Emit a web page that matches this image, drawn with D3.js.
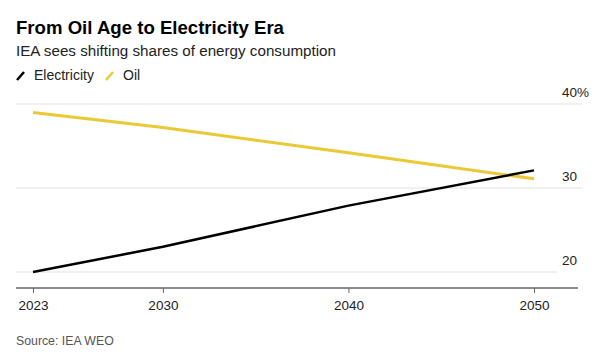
<!DOCTYPE html>
<html>
<head>
<meta charset="utf-8">
<script src="https://cdn.jsdelivr.net/npm/d3@7"></script>
<style>
  body { margin: 0; background: #fff; }
  text { font-family: "Liberation Sans", Arial, sans-serif; }
</style>
</head>
<body>
<svg id="chart" width="599" height="354"></svg>
<script>
// data (share of final energy consumption, %)
const years = [2023, 2030, 2040, 2050];
const electricity = [20.0, 23.0, 27.9, 32.1];
const oil = [39.0, 37.2, 34.2, 31.1];
const yTicks = [20, 30, 40];
const xTicks = [2023, 2030, 2040, 2050];

const svg = d3.select('#chart');

const x = d3.scaleLinear().domain([2023, 2050]).range([33, 534]);
const y = d3.scaleLinear().domain([20, 40]).range([272, 104]);

// title block
svg.append('text')
    .attr('x', 16).attr('y', 34)
    .attr('font-size', 18.6).attr('font-weight', 'bold').attr('fill', '#000')
    .text('From Oil Age to Electricity Era');

svg.append('text')
    .attr('x', 16).attr('y', 56)
    .attr('font-size', 15.2).attr('fill', '#222')
    .text('IEA sees shifting shares of energy consumption');

// legend
const legend = [
    {label: 'Electricity', color: '#000', x: 16},
    {label: 'Oil', color: '#ebc935', x: 105}
];
legend.forEach(d => {
    svg.append('line')
        .attr('x1', d.x + 1).attr('y1', 80)
        .attr('x2', d.x + 8).attr('y2', 72)
        .attr('stroke', d.color).attr('stroke-width', 2.5);
    svg.append('text')
        .attr('x', d.x + 18).attr('y', 80)
        .attr('font-size', 14).attr('fill', '#222')
        .text(d.label);
});

// gridlines
svg.append('g').selectAll('line')
    .data(yTicks)
    .join('line')
    .attr('x1', 16).attr('x2', d => d == 20 ? 557 : 582)
    .attr('y1', d => y(d)).attr('y2', d => y(d))
    .attr('stroke', '#e2e2e2').attr('stroke-width', 1);

// y labels on the right, above gridlines
svg.append('g').selectAll('text')
    .data(yTicks)
    .join('text')
    .attr('x', 562).attr('y', d => y(d) - 7)
    .attr('font-size', 13.5).attr('fill', '#222')
    .text(d => d == 40 ? d + '%' : d);

// x axis
const xAxis = d3.axisBottom(x)
    .tickValues(xTicks)
    .tickFormat(d3.format('d'))
    .tickSize(5)
    .tickSizeOuter(0);

const gx = svg.append('g')
    .attr('transform', 'translate(0,288)')
    .call(xAxis);
gx.select('.domain').remove();
gx.append('line')
    .attr('x1', 16).attr('x2', 578)
    .attr('stroke', '#666').attr('stroke-width', 1.5);
gx.selectAll('.tick line').attr('stroke', '#666');
gx.selectAll('.tick text')
    .attr('y', 12)
    .attr('font-size', 13.5)
    .attr('font-family', '"Liberation Sans", Arial, sans-serif')
    .attr('fill', '#222');

// lines
const line = d3.line()
    .x((d, i) => x(years[i]))
    .y(d => y(d));

svg.append('path')
    .datum(oil)
    .attr('d', line)
    .attr('fill', 'none')
    .attr('stroke', '#ebc935')
    .attr('stroke-width', 3);

svg.append('path')
    .datum(electricity)
    .attr('d', line)
    .attr('fill', 'none')
    .attr('stroke', '#000')
    .attr('stroke-width', 2.5);

// source
svg.append('text')
    .attr('x', 16).attr('y', 345)
    .attr('font-size', 12.3).attr('fill', '#555')
    .text('Source: IEA WEO');
</script>
</body>
</html>
